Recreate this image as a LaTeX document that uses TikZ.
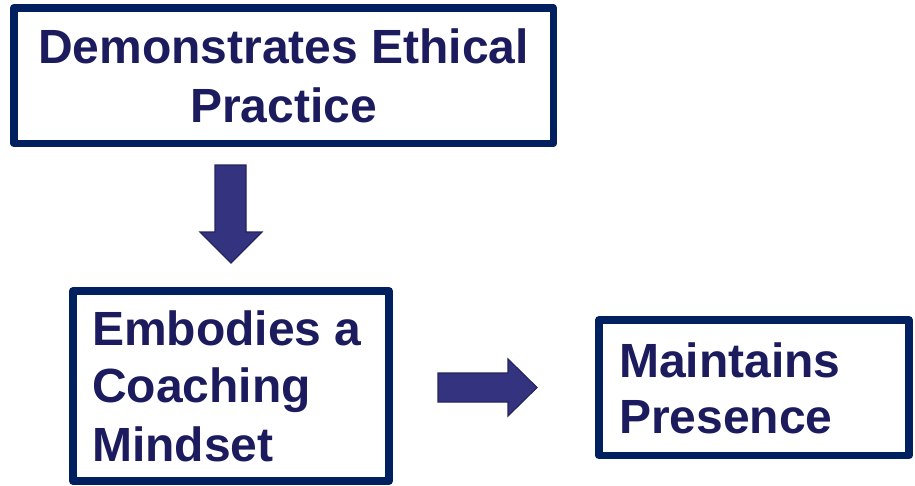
\documentclass[tikz,border=0pt]{standalone}
\usepackage{fontspec}
\setmainfont{Liberation Sans}
\definecolor{boxline}{RGB}{0,32,96}
\definecolor{txt}{RGB}{27,27,94}
\definecolor{arrfill}{RGB}{51,51,128}
\definecolor{arrline}{RGB}{36,36,94}
\begin{document}
\begin{tikzpicture}[x=1pt,y=-1pt,
  box/.style={draw=boxline,line width=7.5pt,line join=round,fill=white},
  lbl/.style={inner sep=0pt,text=txt,font=\fontsize{48}{58}\selectfont\bfseries},
  blockarrow/.style={fill=arrfill,draw=arrline,line width=1.2pt,line join=miter}]
\useasboundingbox (0,0) rectangle (915,485);
% boxes
\draw[box] (13.75,7.75) rectangle (553.25,143.25);
\draw[box] (73,291) rectangle (389,481);
\draw[box] (599,320) rectangle (909,455.5);
% labels
\node[lbl,anchor=base] (d1) at (283.5,63) {Demonstrates Ethical};
\node[lbl,anchor=base] (d2) at (283.5,122) {Practice};
\node[lbl,anchor=base west] (e1) at (92,345) {Embodies a};
\node[lbl,anchor=base west] (e2) at (92,402) {Coaching};
\node[lbl,anchor=base west] (e3) at (92,461) {Mindset};
\node[lbl,anchor=base west] (m1) at (619,377) {Maintains};
\node[lbl,anchor=base west] (m2) at (619,433) {Presence};
% block arrows
\draw[blockarrow] (215,165) -- (246,165) -- (246,232) -- (262,232) -- (231,263) -- (200,232) -- (215,232) -- cycle;
\draw[blockarrow] (438,373) -- (508,373) -- (508,359) -- (537,387.5) -- (508,416) -- (508,402) -- (438,402) -- cycle;
\end{tikzpicture}
\end{document}
